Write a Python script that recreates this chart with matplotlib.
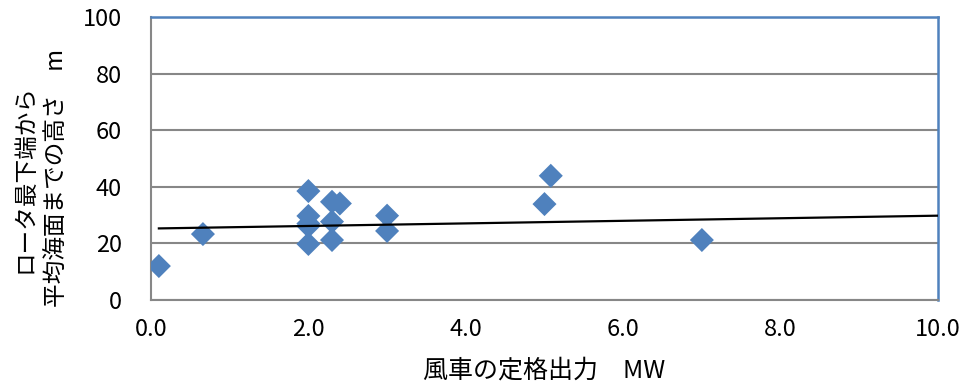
import matplotlib.pyplot as plt

plt.rcParams['font.family'] = ['Noto Sans CJK JP', 'DejaVu Sans']

# rated power (MW) and height from rotor bottom to mean sea level (m)
power = [0.1, 0.66, 2.0, 2.0, 2.0, 2.0, 2.0, 2.3, 2.3, 2.3, 2.4, 3.0, 3.0, 5.0, 5.08, 7.0]
height = [12.0, 23.3, 38.5, 29.7, 26.1, 27.0, 19.8, 34.7, 27.7, 21.2, 34.1, 29.8, 24.4, 33.9, 43.9, 21.2]

# trend line end points
trend_x = [0.1, 10.0]
trend_y = [25.3, 29.8]

xticks = [0, 2, 4, 6, 8, 10]
yticks = [0, 20, 40, 60, 80, 100]

fig = plt.figure(figsize=(9.63, 3.87), dpi=100)
ax = fig.add_axes([0.1568, 0.2248, 0.8172, 0.7312])

blue = '#4F81BD'
grey = '#878787'

ax.set_xlim(0, 10)
ax.set_ylim(0, 100)
ax.set_xticks(xticks)
ax.set_yticks(yticks)
ax.set_xticklabels(['%.1f' % t for t in xticks])
ax.set_yticklabels([str(t) for t in yticks])
ax.tick_params(length=0, labelsize=17, colors='black')
ax.tick_params(axis='y', pad=21)
ax.tick_params(axis='x', pad=13)

ax.grid(axis='y', color=grey, linewidth=1.5)
ax.set_axisbelow(True)

for s in ['left', 'bottom']:
    ax.spines[s].set_color(grey)
    ax.spines[s].set_linewidth(1.5)
for s in ['top', 'right']:
    ax.spines[s].set_color(blue)
    ax.spines[s].set_linewidth(1.8)

ax.scatter(power, height, marker='D', s=150, color=blue, edgecolors='none', zorder=3)
ax.plot(trend_x, trend_y, color='black', linewidth=1.6, zorder=4)

ax.set_xlabel('風車の定格出力　MW', fontsize=18, labelpad=12)
fig.text(0.043, 0.54, 'ロータ最下端から\n平均海面までの高さ　m', rotation=90,
         fontsize=17, ha='center', va='center', linespacing=1.5, multialignment='center')

fig.savefig('out.png', dpi=100)
